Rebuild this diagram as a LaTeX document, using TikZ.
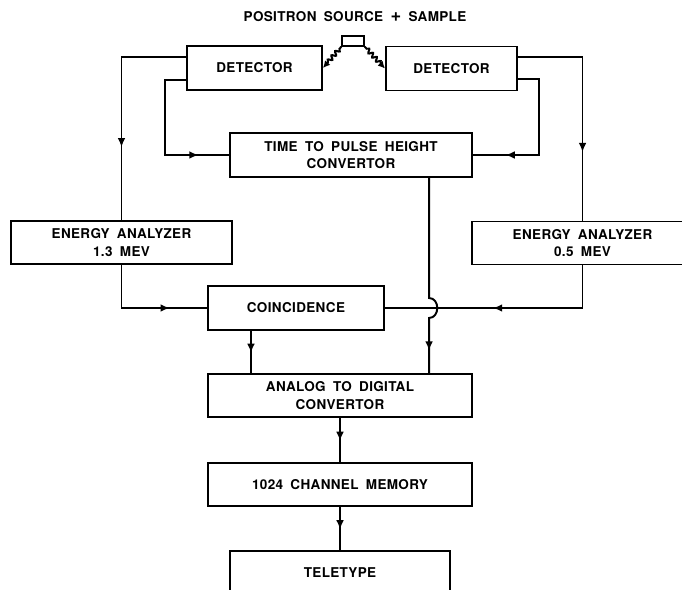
\documentclass[tikz,border=0pt]{standalone}
\usepackage{fontspec}
\setmainfont[LetterSpace=2.5,WordSpace=1.8]{TeX Gyre Heros}
\usetikzlibrary{arrows.meta,positioning,calc,decorations.pathmorphing,decorations.markings}

\begin{document}
\begin{tikzpicture}[
		x=0.025cm, y=-0.025cm,
		line width=1.4pt,
		font=\fontsize{9.6}{12.5}\selectfont\bfseries,
		block/.style={draw, inner sep=0pt, align=center, minimum height=1.1cm},
		arrowat/.style={postaction={decorate}, decoration={markings, mark=at position #1 with {\arrow{Latex[length=6.5pt,width=5.5pt]}}}},
		photon/.style={-{Latex[length=5pt,width=5pt]}, decorate, decoration={snake, amplitude=1.4pt, segment length=4pt, pre length=2pt, post length=4pt}},
	]
	\useasboundingbox (0,0) rectangle (682,590);
	
	\node (title) at (355,17) {POSITRON SOURCE {\fontsize{13}{13}\selectfont+} SAMPLE};
	\node (src) [draw, inner sep=0pt, line width=1pt, minimum width=0.55cm, minimum height=0.25cm] at (353,41) {};
	
	\node (detL) [block, minimum width=3.375cm] at (254.5,68) {DETECTOR};
	\node (detR) [block, minimum width=3.275cm] at (451.5,68.5) {DETECTOR};
	\node (tph) [block, minimum width=6.05cm] at (351,155) {TIME TO PULSE HEIGHT\\CONVERTOR};
	
	\node (eaL) [block, minimum width=5.525cm, minimum height=1.075cm] at (121.5,242.5) {ENERGY ANALYZER\\1.3 MEV};
	\node (eaR) [block, minimum width=5.525cm, minimum height=1.075cm] at (582.5,243) {ENERGY ANALYZER\\0.5 MEV};
	\node (coinc) [block, minimum width=4.4cm] at (296,308) {COINCIDENCE};
	
	\node (adc) [block, minimum width=6.6cm, minimum height=1.075cm] at (340,395.5) {ANALOG TO DIGITAL\\CONVERTOR};
	\node (mem) [block, minimum width=6.6cm, minimum height=1.075cm, below=1.1cm of adc] {1024 CHANNEL MEMORY};
	\node (tty) [block, minimum width=5.5cm, below=1.075cm of mem] {TELETYPE};
	
	% gamma rays from the source
	\draw[photon] (src.south west) -- (detL.east);
	\draw[photon] (src.south east) -- (detR.west);
	
	\draw[arrowat=0.68] ($(detL.west)+(0,-11)$) -| (eaL.north);
	\draw[arrowat=0.81] ($(detL.west)+(0,12)$) -| ($(tph.west)+(-64,0)$) -- (tph.west);
	\draw[arrowat=0.8] ($(detR.east)+(0,10.5)$) -| ($(tph.east)+(66,0)$) -- (tph.east);
	\draw[arrowat=0.7] ($(detR.east)+(0,-11.5)$) -| (eaR.north);
	
	\draw[arrowat=0.71] (eaL.south) |- (coinc.west);
	\draw[arrowat=0.55] (eaR.south) |- (coinc.east);
	
	% time signal hops over the coincidence line
	\draw[arrowat=0.89] ($(tph.south east)+(-44,0)$) coordinate (t) -- (t |- 0,298) .. controls +(11,0) and +(11,0) .. (t |- 0,318) -- (t |- adc.north);
	\draw[arrowat=0.52] ($(coinc.south west)+(44,0)$) coordinate (c) -- (c |- adc.north);
	
	\draw[arrowat=0.52] (adc) -- (mem);
	\draw[arrowat=0.52] (mem) -- (tty);
\end{tikzpicture}
\end{document}
